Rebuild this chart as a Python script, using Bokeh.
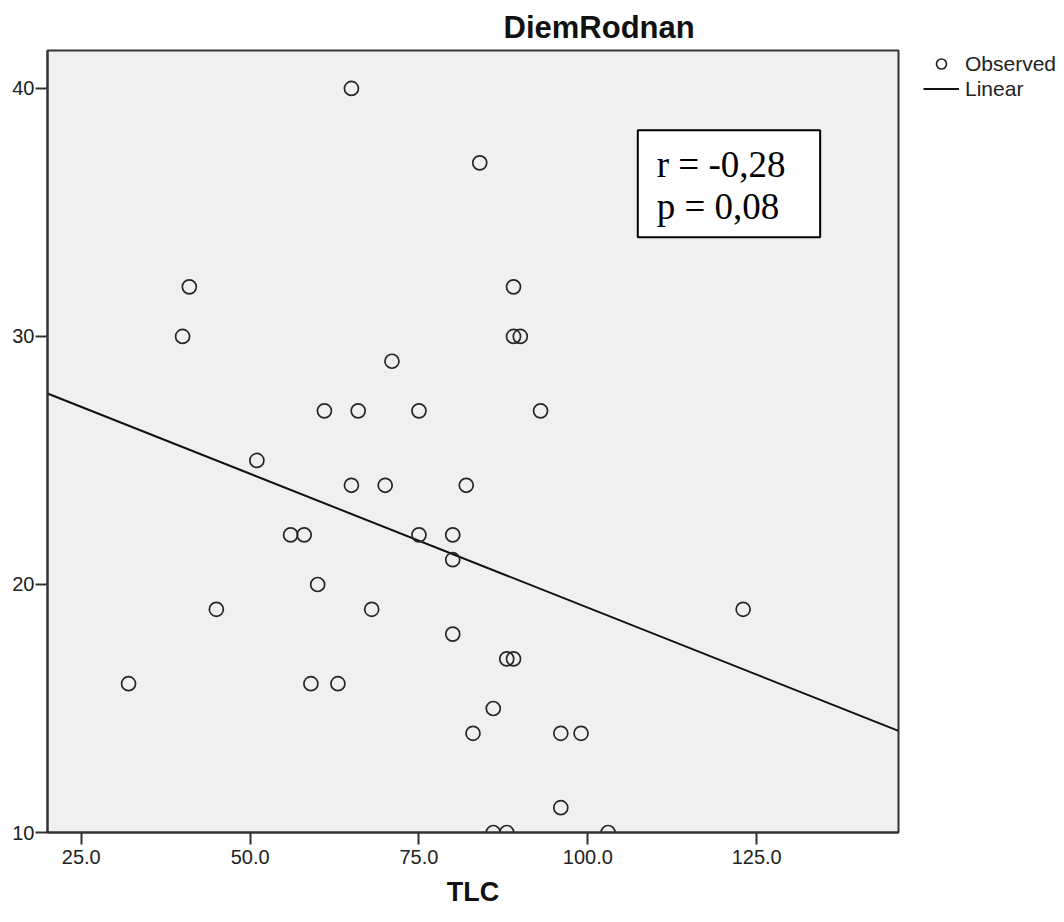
from bokeh.plotting import figure
from bokeh.models import (FixedTicker, Label, BoxAnnotation, Legend, LegendItem, Range1d, Title)
from bokeh.embed import file_html
from bokeh.resources import INLINE

# Observed data (TLC vs DiemRodnan)
tlc = [65, 84, 41, 89, 40, 89, 90, 71, 61, 66, 75, 93, 51, 65, 70, 82, 56, 58, 75, 80,
       80, 60, 45, 68, 123, 80, 88, 89, 32, 59, 63, 86, 83, 96, 99, 96, 86, 88, 103]
diem = [40, 37, 32, 32, 30, 30, 30, 29, 27, 27, 27, 27, 25, 24, 24, 24, 22, 22, 22, 22,
        21, 20, 19, 19, 19, 18, 17, 17, 16, 16, 16, 15, 14, 14, 14, 11, 10, 10, 10]

# Linear fit line (at the frame edges)
line_x = [20.0, 146.0]
line_y = [27.7, 14.1]

x_ticks = [25, 50, 75, 100, 125]
x_tick_labels = ["25.0", "50.0", "75.0", "100.0", "125.0"]
y_ticks = [10, 20, 30, 40]

stat_lines = ["r = -0,28", "p = 0,08"]

SANS = "Liberation Sans"

p = figure(frame_width=851, frame_height=782, output_backend="svg", toolbar_location=None,
           x_range=Range1d(20, 146), y_range=Range1d(10, 41.53),
           min_border_left=47, min_border_right=166, min_border_top=50, min_border_bottom=90)

p.background_fill_color = "#f0f0f0"
p.border_fill_color = "white"
p.outline_line_color = "#333333"
p.outline_line_width = 2
p.xgrid.visible = False
p.ygrid.visible = False

for ax in (p.xaxis[0], p.yaxis[0]):
    ax.axis_line_color = "#333333"
    ax.axis_line_width = 2
    ax.major_tick_line_color = "#333333"
    ax.major_tick_line_width = 2
    ax.major_tick_in = 0
    ax.major_tick_out = 12
    ax.minor_tick_line_color = None
    ax.major_label_text_font = SANS
    ax.major_label_text_font_size = "20px"
    ax.major_label_text_color = "#222222"

p.xaxis[0].ticker = FixedTicker(ticks=x_ticks)
p.xaxis[0].major_label_overrides = {t: l for t, l in zip(x_ticks, x_tick_labels)}
p.xaxis[0].major_label_standoff = 5
p.xaxis[0].axis_label = "TLC"
p.xaxis[0].axis_label_text_font = SANS
p.xaxis[0].axis_label_text_font_style = "bold"
p.xaxis[0].axis_label_text_font_size = "27px"
p.xaxis[0].axis_label_text_color = "#111111"
p.xaxis[0].axis_label_standoff = 10

p.yaxis[0].ticker = FixedTicker(ticks=y_ticks)
p.yaxis[0].major_label_standoff = 1

fit = p.line(line_x, line_y, line_color="#111111", line_width=2)
obs = p.scatter(tlc, diem, marker="circle", size=14, fill_color=None,
                line_color="#262626", line_width=1.7)

# Title
p.add_layout(Title(text="DiemRodnan", text_font=SANS, text_font_style="bold",
                   text_font_size="31px", text_color="#111111",
                   align="left", offset=456, standoff=12), "above")

# Stats box
p.add_layout(BoxAnnotation(left=107.4, right=134.4, top=38.31, bottom=34.0,
                           fill_color="white", fill_alpha=1.0,
                           line_color="black", line_alpha=1.0, line_width=2, level="overlay"))
for i, s in enumerate(stat_lines):
    p.add_layout(Label(x=110.2, y=36.95 - i * 1.73, text=s,
                       text_font="Liberation Serif", text_font_size="37px",
                       text_color="black", text_baseline="alphabetic", level="overlay"))

legend = Legend(items=[LegendItem(label="Observed", renderers=[obs]),
                       LegendItem(label="Linear", renderers=[fit])],
                location=(25, 731), padding=0, margin=0, spacing=0,
                glyph_width=36, glyph_height=25, label_height=25, label_standoff=6,
                label_text_font=SANS, label_text_font_size="21px",
                label_text_color="#222222",
                border_line_color=None, background_fill_alpha=0)
p.add_layout(legend, "right")

open("out.html", "w").write(file_html(p, INLINE))
